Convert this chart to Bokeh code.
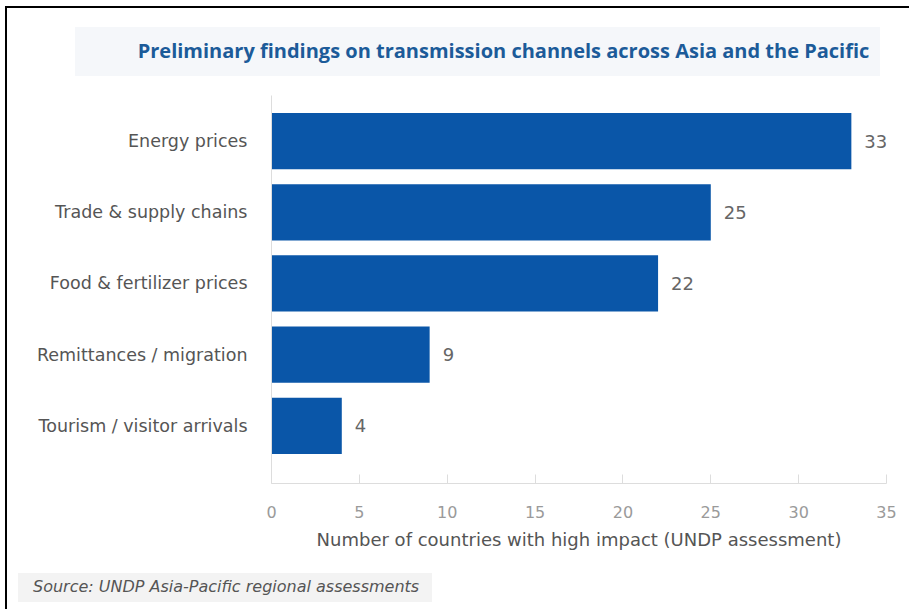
from bokeh.plotting import figure
from bokeh.models import ColumnDataSource, FixedTicker, Range1d, Div
from bokeh.layouts import column
from bokeh.core.properties import value
from bokeh.embed import file_html
from bokeh.resources import INLINE

categories = ["Energy prices", "Trade & supply chains", "Food & fertilizer prices",
              "Remittances / migration", "Tourism / visitor arrivals"]
values = [33, 25, 22, 9, 4]
x_ticks = [0, 5, 10, 15, 20, 25, 30, 35]
title_text = "Preliminary findings on transmission channels across Asia and the Pacific"
x_label = "Number of countries with high impact (UNDP assessment)"
source_text = "Source: UNDP Asia-Pacific regional assessments"

n = len(categories)
ypos = [n - 1 - i for i in range(n)]

BODY_FONT = "DejaVu Sans"

# outer frame lines (top + left) drawn as fixed-position HTML elements
frame_html = ('<div style="position:fixed;z-index:9999;left:5px;top:6px;width:904px;height:2px;background:#000"></div>'
              '<div style="position:fixed;z-index:9999;left:5px;top:6px;width:2px;height:603px;background:#000"></div>')

title_html = ('<div style="width:805px;height:49px;background:#f5f7fa;box-sizing:border-box;'
              'display:flex;align-items:center;justify-content:center;padding-left:52px;'
              'font-family:\'Open Sans\';font-weight:bold;font-size:20px;color:#1c5b99;white-space:nowrap">'
              + title_text + '</div>')
title_div = Div(text=title_html, width=805, height=49, margin=(27, 0, 0, 75))

p = figure(width=909, height=497, output_backend="svg", toolbar_location=None,
           x_range=Range1d(0, 35), y_range=Range1d(-0.81, n - 1 + 0.64),
           min_border_left=271, min_border_right=23, min_border_top=19,
           min_border_bottom=90, title=None, margin=(0, 0, 0, 0))
p.outline_line_color = None
p.xgrid.grid_line_color = None
p.ygrid.grid_line_color = None
p.background_fill_color = "white"
p.border_fill_color = "white"

src = ColumnDataSource(dict(y=ypos, v=values, lab=[str(v) for v in values], cat=categories))
p.hbar(y="y", right="v", left=0, height=0.79, source=src, fill_color="#0a56a8", line_color=None)
p.text(x="v", y="y", text="lab", source=src, x_offset=13, text_align="left",
       text_baseline="middle", text_font_size="18px", text_color="#666666",
       text_font=value(BODY_FONT))

xa = p.xaxis[0]
xa.ticker = FixedTicker(ticks=x_ticks)
xa.axis_line_color = "#dddddd"
xa.major_tick_line_color = "#dddddd"
xa.major_tick_in = 9
xa.major_tick_out = 0
xa.minor_tick_line_color = None
xa.major_label_text_font = BODY_FONT
xa.major_label_text_font_size = "16px"
xa.major_label_text_color = "#9a9a9a"
xa.major_label_standoff = 22
xa.axis_label = x_label
xa.axis_label_text_font = BODY_FONT
xa.axis_label_text_font_style = "normal"
xa.axis_label_text_font_size = "18px"
xa.axis_label_text_color = "#555555"
xa.axis_label_standoff = 8

ya = p.yaxis[0]
ya.ticker = FixedTicker(ticks=ypos)
ya.major_label_overrides = {y: c for y, c in zip(ypos, categories)}
ya.axis_line_color = "#dddddd"
ya.major_tick_line_color = None
ya.minor_tick_line_color = None
ya.major_label_text_font = BODY_FONT
ya.major_label_text_font_size = "17.5px"
ya.major_label_text_color = "#555555"
ya.major_label_standoff = 18

source_html = (frame_html +
               '<div style="width:414px;height:29px;background:#f3f3f3;box-sizing:border-box;'
               'display:flex;align-items:center;padding-left:15px;'
               'font-family:\'DejaVu Sans\';font-style:italic;font-size:16px;color:#555555;white-space:nowrap">'
               + source_text + '</div>')
source_div = Div(text=source_html, width=414, height=29, margin=(0, 0, 0, 18))

layout = column(title_div, p, source_div, spacing=0)

open("out.html", "w").write(file_html(layout, INLINE))
